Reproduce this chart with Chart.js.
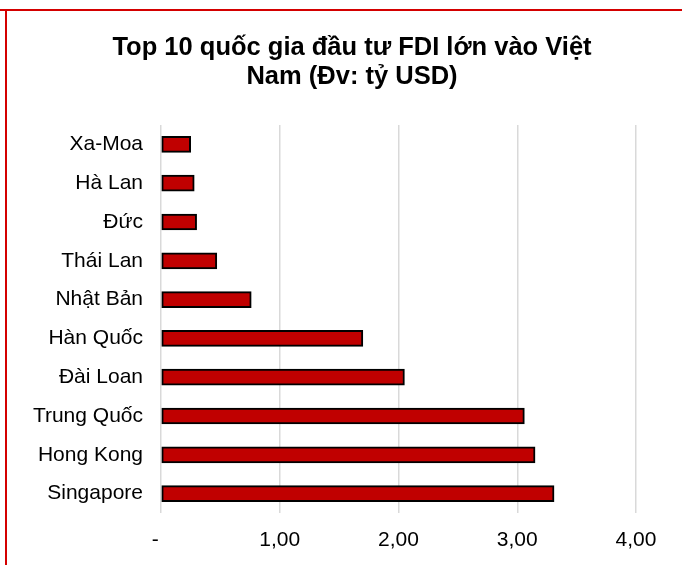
<!DOCTYPE html>
<html>
<head>
<meta charset="utf-8">
<script src="https://cdn.jsdelivr.net/npm/chart.js@4/dist/chart.umd.min.js"></script>
<style>
	body { margin: 0; background: #fff; }
	#wrap { position: relative; width: 682px; height: 565px; }
	#mycanvas { position: absolute; left: 0; top: 0; }
	#frameTop { position: absolute; left: 0; top: 9px; width: 682px; height: 2px; background: #d40000; }
	#frameLeft { position: absolute; left: 5px; top: 9px; width: 2px; height: 556px; background: #d40000; }
</style>
</head>
<body>
<div id="wrap">
	<canvas id="mycanvas" width="682" height="565"></canvas>
	<div id="frameTop"></div>
	<div id="frameLeft"></div>
</div>
<script>
var countries = ['Xa-Moa', 'Hà Lan', 'Đức', 'Thái Lan', 'Nhật Bản', 'Hàn Quốc', 'Đài Loan', 'Trung Quốc', 'Hong Kong', 'Singapore'];
var fdi = [0.25, 0.28, 0.30, 0.47, 0.76, 1.70, 2.05, 3.06, 3.15, 3.31];
var xTicks = [0, 1, 2, 3, 4];
var titleLines = ['Top 10 quốc gia đầu tư FDI lớn vào Việt', 'Nam (Đv: tỷ USD)'];

// title drawn by hand so it can sit off-centre like the original
var titlePlugin = {
	id: 'titleLines',
	afterDraw: function(chart) {
		var c = chart.ctx;
		c.save();
		c.fillStyle = '#000';
		c.font = 'bold 25.5px "Liberation Sans", Arial';
		c.textAlign = 'center';
		c.textBaseline = 'middle';
		for (var i = 0; i < titleLines.length; i++) {
			c.fillText(titleLines[i], 352, 48 + i * 29);
		}
		c.restore();
	}
};

var chartdata = {
	labels: countries,
	datasets: [
		{
			label: 'FDI',
			backgroundColor: '#c00000',
			borderColor: '#000000',
			borderWidth: 2,
			borderSkipped: false,
			barThickness: 16,
			data: fdi
		}
	]
};

var ctx = document.getElementById('mycanvas');

var barGraph = new Chart(ctx, {
	type: 'bar',
	data: chartdata,
	plugins: [titlePlugin],
	options: {
		indexAxis: 'y',
		responsive: false,
		devicePixelRatio: 1,
		animation: false,
		layout: { padding: { left: 20, right: 46, top: 125, bottom: 11 } },
		plugins: {
			legend: { display: false },
			tooltip: { enabled: false },
			title: { display: false }
		},
		scales: {
			x: {
				min: 0,
				max: 4,
				afterBuildTicks: function(axis) {
					axis.ticks = xTicks.map(function(v) { return { value: v }; });
				},
				afterFit: function(axis) { axis.height = 41; },
				border: { display: false },
				grid: { color: '#d9d9d9', lineWidth: 1.5, drawTicks: false },
				ticks: {
					padding: 15,
					maxRotation: 0,
					color: '#000',
					font: { family: 'Liberation Sans, Arial', size: 21 },
					callback: function(v) {
						if (v === 0) return '-  ';
						return v.toFixed(2).replace('.', ',');
					}
				}
			},
			y: {
				afterFit: function(axis) { axis.width = 141; },
				border: { display: false },
				grid: { display: false, drawTicks: false },
				ticks: {
					padding: 18,
					color: '#000',
					font: { family: 'Liberation Sans, Arial', size: 21 }
				}
			}
		}
	}
});
</script>
</body>
</html>
